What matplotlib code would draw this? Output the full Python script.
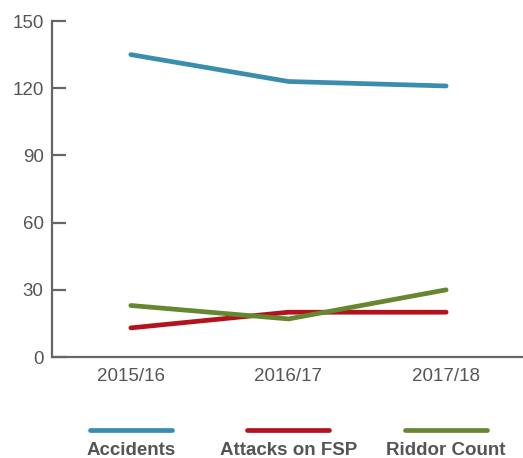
import numpy as np
import matplotlib
matplotlib.use('Agg')
import matplotlib.pyplot as plt
import matplotlib.transforms as mtrans
from matplotlib.lines import Line2D

years = ['2015/16', '2016/17', '2017/18']
accidents = [135, 123, 121]
attacks_fsp = [13, 20, 20]
riddor = [23, 17, 30]

series_names = ['Accidents', 'Attacks on FSP', 'Riddor Count']
series_vals = [accidents, attacks_fsp, riddor]
colors = ['#3b8db0', '#b3121f', '#65872f']
yticks = [0, 30, 60, 90, 120, 150]

plt.rcParams['font.family'] = ['Liberation Sans', 'DejaVu Sans']
grey = '#555555'

fig = plt.figure(figsize=(5.23, 4.58), dpi=100)
ax = fig.add_axes([0.0994, 0.2205, 0.9044, 0.7336])

x = np.arange(len(years))
for vals, c in zip(series_vals, colors):
    ax.plot(x, vals, color=c, lw=3.4, solid_capstyle='round', clip_on=False)

ax.set_xlim(-0.5, 2.5)
ax.set_ylim(0, 150)
ax.set_yticks(yticks)
ax.set_xticks(x)
ax.set_xticklabels(years)

for s in ['top', 'right']:
    ax.spines[s].set_visible(False)
for s in ['left', 'bottom']:
    ax.spines[s].set_color('#666666')
    ax.spines[s].set_linewidth(1.6)

ax.tick_params(axis='y', direction='in', length=10, width=1.6, color='#666666',
               labelsize=13.5, labelcolor=grey, pad=6)
ax.tick_params(axis='x', length=0, labelsize=13.5, labelcolor=grey, pad=8)

# legend drawn below, each entry centred under its year column
trans = mtrans.blended_transform_factory(ax.transData, fig.transFigure)
for i, (name, c) in enumerate(zip(series_names, colors)):
    fig.add_artist(Line2D([x[i] - 0.26, x[i] + 0.26], [0.0611, 0.0611], transform=trans,
                          color=c, lw=3.4, solid_capstyle='round'))
    fig.text(x[i], 0.0165, name, transform=trans, ha='center', va='center',
             fontsize=13.5, fontweight='bold', color=grey)

plt.savefig('out.png', dpi=100)
